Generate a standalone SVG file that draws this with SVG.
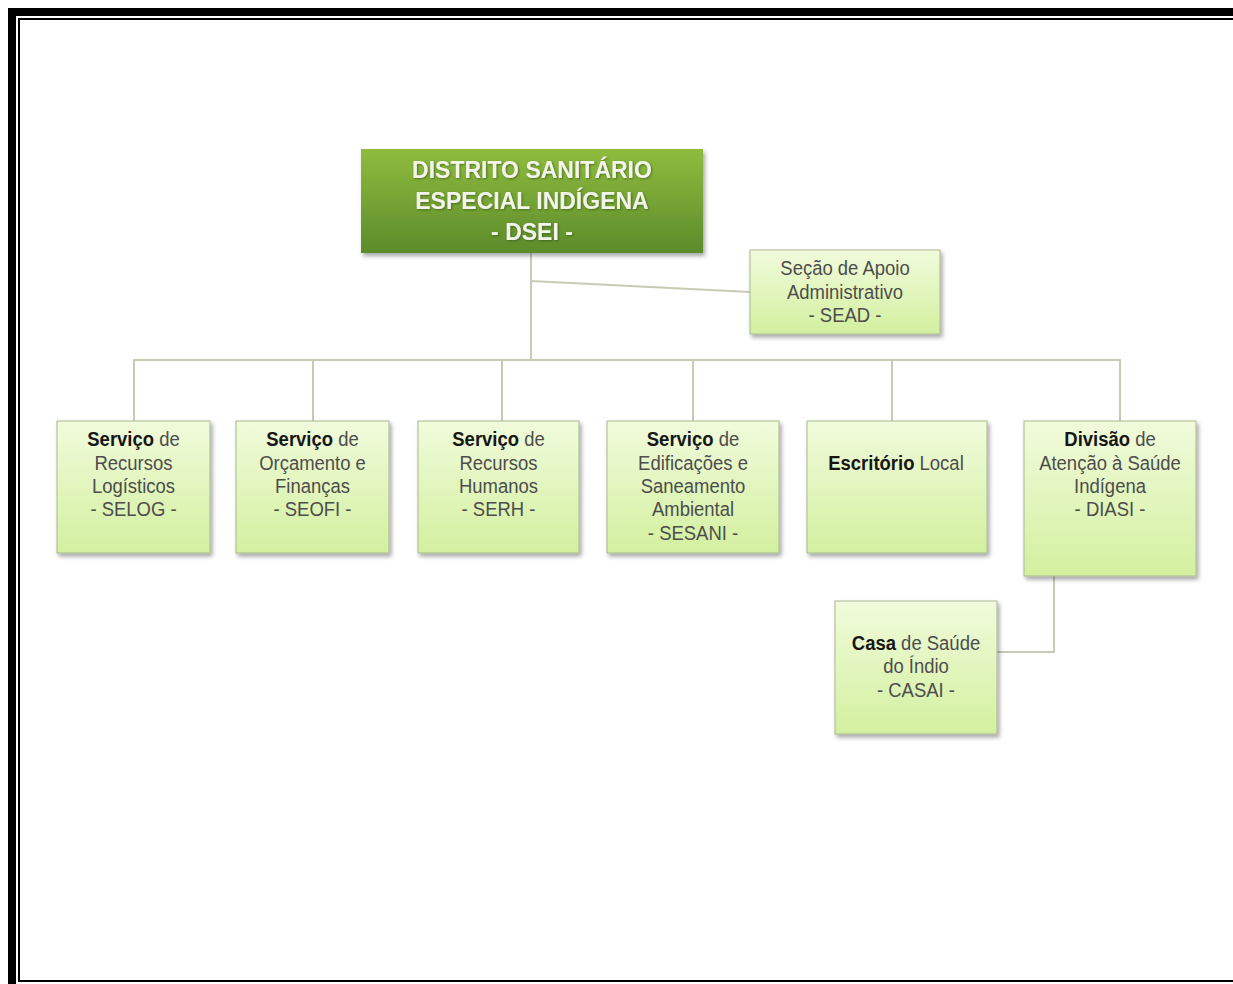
<svg xmlns="http://www.w3.org/2000/svg" width="1233" height="984" viewBox="0 0 1233 984">
<style>
.node{fill:url(#lg);stroke:#a9b792;stroke-width:1;filter:url(#sh)}
.t{font-family:"Liberation Sans",Arial,sans-serif;font-size:21px;fill:#4d4d4d;text-anchor:middle}
.b{font-weight:bold;fill:#161616}
.title{font-family:"Liberation Sans",Arial,sans-serif;font-size:23px;font-weight:bold;fill:#f3f5ea;text-anchor:middle;filter:url(#tsh)}
.con{fill:none;stroke:#c9cab4;stroke-width:2}
</style>
<defs>
<linearGradient id="lg" x1="0" y1="0" x2="0" y2="1">
<stop offset="0" stop-color="#f1fbdc"/>
<stop offset="1" stop-color="#d3f09f"/>
</linearGradient>
<linearGradient id="dg" x1="0" y1="0" x2="0" y2="1">
<stop offset="0" stop-color="#8fbc3e"/>
<stop offset="1" stop-color="#5c8b2b"/>
</linearGradient>
<filter id="sh" x="-10%" y="-10%" width="125%" height="130%">
<feDropShadow dx="2" dy="3" stdDeviation="2" flood-color="#000" flood-opacity="0.35"/>
</filter>
<filter id="tsh" x="-5%" y="-20%" width="110%" height="140%">
<feDropShadow dx="1" dy="1" stdDeviation="0.8" flood-color="#2e4a12" flood-opacity="0.6"/>
</filter>
</defs>
<rect width="1233" height="984" fill="#ffffff"/>
<g id="border">
<rect x="12" y="12" width="1240" height="990" fill="none" stroke="#000" stroke-width="8"/>
<rect x="19" y="19" width="1230" height="962" fill="none" stroke="#000" stroke-width="2"/>
</g>
<g id="connectors">
<line class="con" x1="531" y1="253" x2="531" y2="360"/>
<line class="con" x1="531" y1="281" x2="750" y2="292"/>
<polyline class="con" points="134,421 134,360 1120,360 1120,421"/>
<line class="con" x1="313" y1="360" x2="313" y2="421"/>
<line class="con" x1="502" y1="360" x2="502" y2="421"/>
<line class="con" x1="693" y1="360" x2="693" y2="421"/>
<line class="con" x1="892" y1="360" x2="892" y2="421"/>
<polyline class="con" points="1054,576 1054,652 997,652"/>
</g>
<g id="dsei">
<rect x="361" y="149" width="342" height="104" fill="url(#dg)" filter="url(#sh)"/>
<text class="title" x="532" y="178">DISTRITO SANITÁRIO</text>
<text class="title" x="532" y="209">ESPECIAL INDÍGENA</text>
<text class="title" x="532" y="240">- DSEI -</text>
</g>
<g id="sead">
<rect class="node" x="750" y="250" width="190" height="84"/>
<text class="t" transform="translate(845 275) scale(0.88 1)"><tspan x="0" y="0">Seção de Apoio</tspan><tspan x="0" y="24">Administrativo</tspan><tspan x="0" y="47">- SEAD -</tspan></text>
</g>
<g id="selog">
<rect class="node" x="57" y="421" width="153" height="132"/>
<text class="t" transform="translate(133.5 446) scale(0.88 1)"><tspan x="0" y="0" class="b">Serviço</tspan><tspan> de</tspan><tspan x="0" y="24">Recursos</tspan><tspan x="0" y="47">Logísticos</tspan><tspan x="0" y="70">- SELOG -</tspan></text>
</g>
<g id="seofi">
<rect class="node" x="236" y="421" width="153" height="132"/>
<text class="t" transform="translate(312.5 446) scale(0.88 1)"><tspan x="0" y="0" class="b">Serviço</tspan><tspan> de</tspan><tspan x="0" y="24">Orçamento e</tspan><tspan x="0" y="47">Finanças</tspan><tspan x="0" y="70">- SEOFI -</tspan></text>
</g>
<g id="serh">
<rect class="node" x="418" y="421" width="161" height="132"/>
<text class="t" transform="translate(498.5 446) scale(0.88 1)"><tspan x="0" y="0" class="b">Serviço</tspan><tspan> de</tspan><tspan x="0" y="24">Recursos</tspan><tspan x="0" y="47">Humanos</tspan><tspan x="0" y="70">- SERH -</tspan></text>
</g>
<g id="sesani">
<rect class="node" x="607" y="421" width="172" height="132"/>
<text class="t" transform="translate(693 446) scale(0.88 1)"><tspan x="0" y="0" class="b">Serviço</tspan><tspan> de</tspan><tspan x="0" y="24">Edificações e</tspan><tspan x="0" y="47">Saneamento</tspan><tspan x="0" y="70">Ambiental</tspan><tspan x="0" y="94">- SESANI -</tspan></text>
</g>
<g id="escritorio">
<rect class="node" x="807" y="421" width="180" height="132"/>
<text class="t" transform="translate(896 470) scale(0.88 1)"><tspan x="0" y="0" class="b">Escritório</tspan><tspan> Local</tspan></text>
</g>
<g id="diasi">
<rect class="node" x="1024" y="421" width="172" height="155"/>
<text class="t" transform="translate(1110 446) scale(0.88 1)"><tspan x="0" y="0" class="b">Divisão</tspan><tspan> de</tspan><tspan x="0" y="24">Atenção à Saúde</tspan><tspan x="0" y="47">Indígena</tspan><tspan x="0" y="70">- DIASI -</tspan></text>
</g>
<g id="casai">
<rect class="node" x="835" y="601" width="162" height="133"/>
<text class="t" transform="translate(916 650) scale(0.88 1)"><tspan x="0" y="0" class="b">Casa</tspan><tspan> de Saúde</tspan><tspan x="0" y="23">do Índio</tspan><tspan x="0" y="47">- CASAI -</tspan></text>
</g>
</svg>
